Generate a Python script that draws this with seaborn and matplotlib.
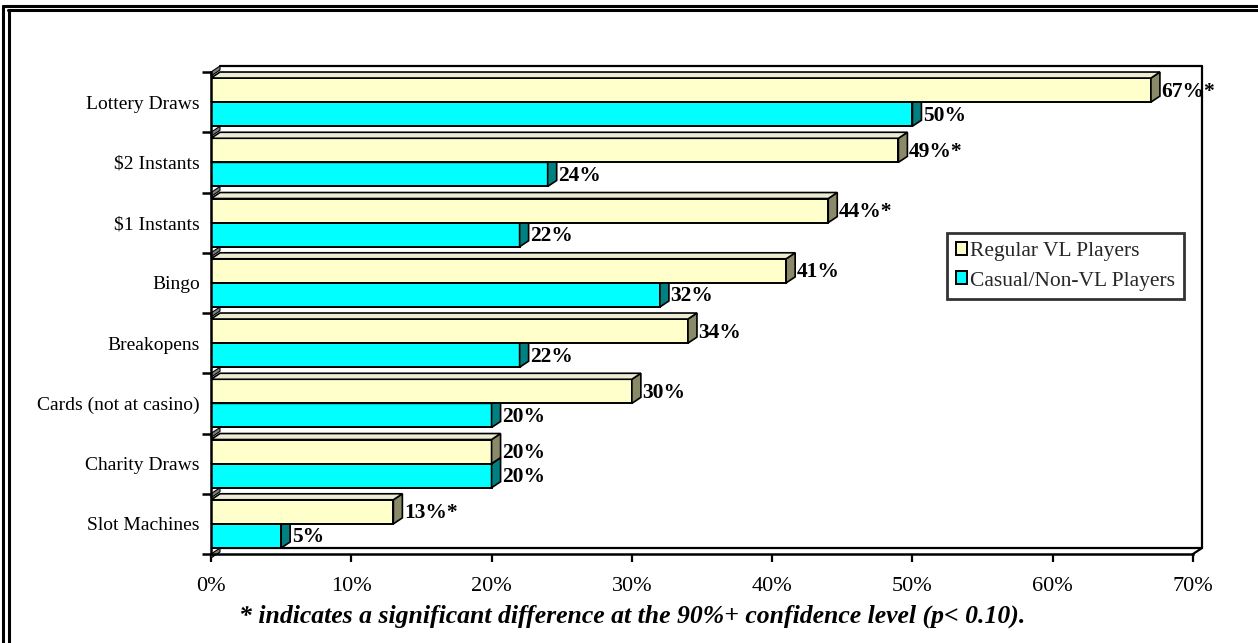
import numpy as np
import pandas as pd
import matplotlib
matplotlib.use("Agg")
import matplotlib.pyplot as plt
from matplotlib.patches import Polygon, Patch
from matplotlib.lines import Line2D
from matplotlib.ticker import FuncFormatter, FixedLocator
import seaborn as sns

# ---- data -------------------------------------------------------------
categories = ["Lottery Draws", "$2 Instants", "$1 Instants", "Bingo",
              "Breakopens", "Cards (not at casino)", "Charity Draws",
              "Slot Machines"]
regular_vl = [67, 49, 44, 41, 34, 30, 20, 13]
casual_vl = [50, 24, 22, 32, 22, 20, 20, 5]
regular_sig = [True, True, True, False, False, False, False, True]
casual_sig = [False] * 8
groups = ["Regular VL Players", "Casual/Non-VL Players"]
x_ticks = [0, 10, 20, 30, 40, 50, 60, 70]
footnote = "* indicates a significant difference at the 90%+ confidence level (p< 0.10)."

# ---- styling ----------------------------------------------------------
sns.set_style("white")
plt.rcParams["font.family"] = ["Liberation Serif", "DejaVu Serif"]
plt.rcParams["axes.unicode_minus"] = False

face_colors = ["#FFFFCC", "#00FFFF"]
side_colors = ["#8A8A68", "#008080"]
top_colors = ["#ECECD4", "#7FD8D8"]

W, H = 1258, 643
fig = plt.figure(figsize=(W / 100, H / 100), dpi=100)
ax_left, ax_right, ax_top, ax_bottom = 211, 1193, 72, 554
ax = fig.add_axes([ax_left / W, 1 - ax_bottom / H,
                   (ax_right - ax_left) / W, (ax_bottom - ax_top) / H])

df = pd.DataFrame({
    "category": categories * 2,
    "value": regular_vl + casual_vl,
    "group": [groups[0]] * len(categories) + [groups[1]] * len(categories),
})

sns.barplot(data=df, x="value", y="category", hue="group", orient="h",
            palette=face_colors, edgecolor="black", linewidth=1.4,
            width=0.8, saturation=1, ax=ax, legend=False)

xmin, xmax = 0, 70
ymin, ymax = -0.5, len(categories) - 0.5
ax.set_xlim(xmin, xmax)
ax.set_ylim(ymax, ymin)

# 3-D depth offset expressed in data units (9 px right, 6 px up)
px_x = (xmax - xmin) / (ax_right - ax_left)
px_y = (ymax - ymin) / (ax_bottom - ax_top)
dx = 9 * px_x
dy = 6 * px_y

# back wall and floor outline
wall_kw = dict(color="black", lw=1.6, clip_on=False, zorder=1)
ax.plot([dx, xmax + dx], [ymin - dy, ymin - dy], **wall_kw)
ax.plot([xmax + dx, xmax + dx], [ymin - dy, ymax - dy], **wall_kw)
ax.plot([dx, xmax + dx], [ymax - dy, ymax - dy], **wall_kw)
ax.plot([xmax, xmax + dx], [ymax, ymax - dy], **wall_kw)

# grey wall slivers at each category boundary
for b in np.arange(ymin, ymax + 0.01, 1.0):
    h = 4 * px_y
    ax.add_patch(Polygon([(0, b), (dx, b - dy), (dx, b - dy + h), (0, b + h)],
                         closed=True, facecolor="#808080", edgecolor="black",
                         lw=0.8, clip_on=False, zorder=1.5))

sigs = [regular_sig, casual_sig]
vals = [regular_vl, casual_vl]
for gi, container in enumerate(ax.containers):
    z = 3 if gi == 0 else 2  # upper series drawn in front of the lower one
    for ci, bar in enumerate(container.patches):
        bar.set_zorder(z)
        x0 = bar.get_x()
        w = bar.get_width()
        y0 = bar.get_y()
        y1 = y0 + bar.get_height()
        side = Polygon([(x0 + w, y0), (x0 + w + dx, y0 - dy),
                        (x0 + w + dx, y1 - dy), (x0 + w, y1)], closed=True,
                       facecolor=side_colors[gi], edgecolor="black", lw=1.2,
                       clip_on=False, zorder=z + 0.1)
        ax.add_patch(side)
        top = Polygon([(x0, y0), (x0 + dx, y0 - dy), (x0 + w + dx, y0 - dy),
                       (x0 + w, y0)], closed=True, facecolor=top_colors[gi],
                      edgecolor="black", lw=1.2, clip_on=False, zorder=z + 0.1)
        ax.add_patch(top)
        label = f"{vals[gi][ci]}%" + ("*" if sigs[gi][ci] else "")
        ax.text(x0 + w + dx + 1.5 * px_x, (y0 + y1) / 2 + 1.5 * px_y, label,
                ha="left", va="center", fontsize=15.5, fontweight="bold",
                color="black", zorder=5, clip_on=False)

# axes, ticks and labels
for s in ["top", "right"]:
    ax.spines[s].set_visible(False)
for s in ["left", "bottom"]:
    ax.spines[s].set_visible(True)
    ax.spines[s].set_color("black")
    ax.spines[s].set_linewidth(1.8)
    ax.spines[s].set_zorder(4)

ax.set_xticks(x_ticks)
ax.xaxis.set_major_formatter(FuncFormatter(lambda v, p: f"{v:.0f}%"))
ax.tick_params(axis="x", direction="out", length=6, width=1.6, pad=10.5,
               labelsize=16, colors="black", bottom=True)
ax.set_yticks(range(len(categories)))
ax.set_yticklabels(categories)
ax.tick_params(axis="y", which="major", length=0, pad=8, labelsize=14,
               colors="black", left=True)
ax.yaxis.set_minor_locator(FixedLocator(np.arange(ymin, ymax + 0.01, 1.0)))
ax.tick_params(axis="y", which="minor", direction="out", length=6.5,
               width=1.8, left=True, colors="black")
ax.set_xlabel("")
ax.set_ylabel("")
ax.grid(False)
ax.set_facecolor("none")

# legend
handles = [Patch(facecolor=face_colors[i], edgecolor="black", lw=1.4,
                 label=groups[i]) for i in range(2)]
leg = ax.legend(handles=handles, loc="upper left",
                bbox_to_anchor=(947 / W, 1 - 233 / H),
                bbox_transform=fig.transFigure, borderaxespad=0,
                frameon=True, fancybox=False, shadow=False, fontsize=15.5,
                handlelength=0.55, handleheight=0.55, handletextpad=0.12,
                labelspacing=0.5, borderpad=0.4)
leg.get_frame().set_edgecolor("black")
leg.get_frame().set_linewidth(2.0)
leg.set_zorder(6)

# footnote
fig.text(632 / W, 1 - 616 / H, footnote, ha="center", va="center",
         fontsize=18.5, fontweight="bold", style="italic", color="black")

# double frame around the panel
for off, lw in [(5.5, 2.2), (9.8, 2.2)]:
    fig.add_artist(Line2D([(off - 2) / W, 1], [1 - off / H, 1 - off / H],
                          transform=fig.transFigure, color="black", lw=lw))
for off, top_off, lw in [(3.5, 5.5, 2.2), (8.5, 9.8, 2.2)]:
    fig.add_artist(Line2D([off / W, off / W], [1 - top_off / H, 0],
                          transform=fig.transFigure, color="black", lw=lw))

fig.savefig("out.png", dpi=100, facecolor="white")
